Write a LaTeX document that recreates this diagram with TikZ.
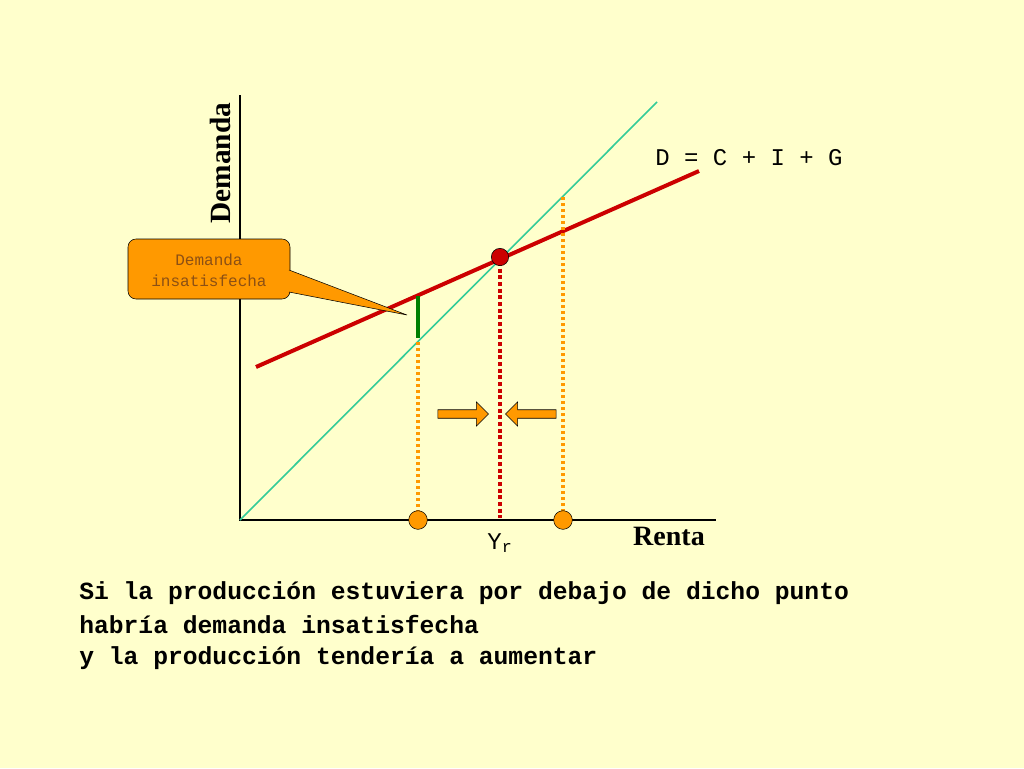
\documentclass[tikz,border=0pt]{standalone}
\usepackage{fontspec}
\setmainfont{Liberation Serif}
\setmonofont{Liberation Mono}
\usetikzlibrary{shapes.arrows}
\definecolor{bg}{RGB}{255,255,204}
\definecolor{dred}{RGB}{204,0,0}
\definecolor{orng}{RGB}{255,153,0}
\definecolor{teal2}{RGB}{51,204,153}
\definecolor{dgreen}{RGB}{0,128,0}
\definecolor{brn}{RGB}{140,80,20}
\begin{document}
\begin{tikzpicture}[x=0.75pt,y=-0.75pt,
  dot/.style={circle,draw=black,thin,inner sep=0pt,minimum size=#1},
  arr/.style={single arrow,draw=black,thin,fill=orng,minimum height=38pt,single arrow head extend=4pt,minimum width=18pt,inner sep=2pt}]
\fill[bg] (0,0) rectangle (1024,768);
\useasboundingbox (0,0) rectangle (1024,768);
\coordinate (O) at (240,520);
\coordinate (Ytop) at (240,95);
\coordinate (Xend) at (716,520);
\draw[line width=1.5pt] (Ytop) -- (O) -- (Xend);
\coordinate (L1) at (657,102);
\draw[teal2,line width=1.2pt] (O) -- (L1);
\coordinate (R0) at (256,367);
\coordinate (R1) at (699,171);
\draw[dred,line width=3pt] (R0) -- (R1);
\draw[dgreen,line width=2.5pt] (418,296) -- (418,338);
\draw[orng,line width=2.5pt,dotted] (418,342) -- (418,512);
\draw[orng,line width=2.5pt,dotted] (563,197) -- (563,512);
\draw[dred,line width=3pt,dotted] (500,262) -- (500,518);
\node[dot=14pt,fill=orng] (c1) at (418,520) {};
\node[dot=14pt,fill=orng] (c2) at (563,520) {};
\node[dot=13pt,fill=dred] (eq) at (500,257) {};
\node[arr] (a1) at (461,414) {};
\node[arr,shape border rotate=180] (a2) at (533,414) {};
% callout
\coordinate (tip) at (407,315);
\draw[black,thin,fill=orng,rounded corners=6pt] (128,239) rectangle (290,299);
\filldraw[black,thin,fill=orng] (289,270) -- (tip) -- (289,292);
\fill[orng] (287,271) rectangle (291,291);
\node[font=\ttfamily\fontsize{12}{14}\selectfont,text=brn,align=center] (ct) at (209,270) {Demanda\\[2pt]insatisfecha};
\node[font=\bfseries\fontsize{22}{24}\selectfont,rotate=90] (ylab) at (220,163) {Demanda};
\node[font=\bfseries\fontsize{21}{24}\selectfont] (xlab) at (669,536) {Renta};
\node[font=\ttfamily\fontsize{18}{20}\selectfont] (eqlab) at (749,158) {D = C + I + G};
\node[font=\ttfamily\fontsize{18}{20}\selectfont] (yr) at (500,543) {Y\textsubscript{r}};
\node[font=\ttfamily\bfseries\fontsize{18.5}{25}\selectfont,anchor=north west,align=left,inner sep=0pt] (txt) at (79,581)
 {Si la producción estuviera por debajo de dicho punto\\[1pt]habría demanda insatisfecha\\[-2pt]y la producción tendería a aumentar};
\end{tikzpicture}
\end{document}
